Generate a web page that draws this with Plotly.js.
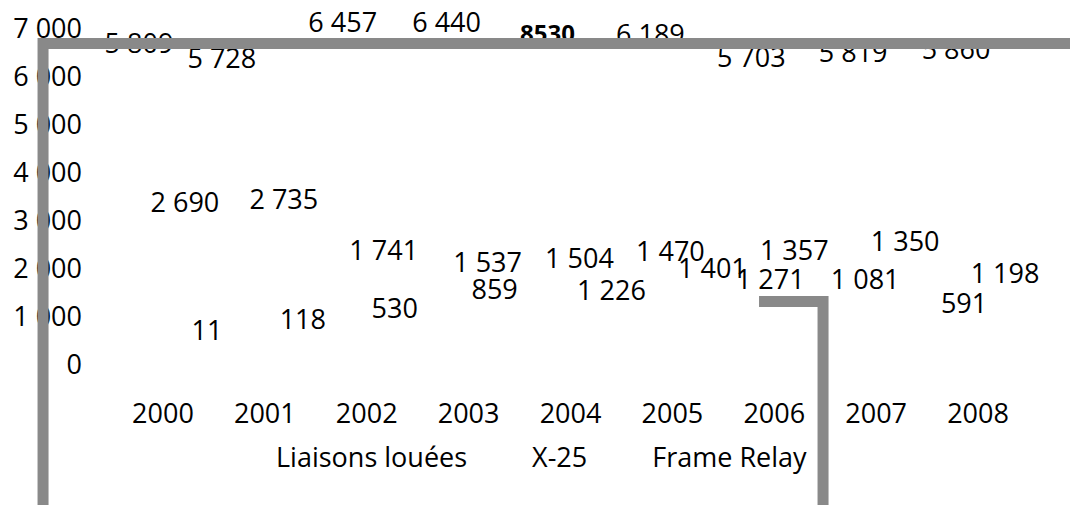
<!DOCTYPE html>
<html>
<head>
<meta charset="utf-8">
<script src="https://cdn.plot.ly/plotly-3.0.1.min.js"></script>
<style>
  html, body { margin: 0; padding: 0; background: #ffffff; }
  #chart { width: 1070px; height: 505px; }
</style>
</head>
<body>
<div id="chart"></div>
<script>
// ---- data ----
const years = [2000, 2001, 2002, 2003, 2004, 2005, 2006, 2007, 2008];
const seriesNames = ['Liaisons louées', 'X-25', 'Frame Relay'];
const liaisonsLouees = [5809, 5728, 6457, 6440, 6230, 6189, 5703, 5819, 5860];
const x25 = [2690, 2735, 1741, 1537, 1504, 1470, 1357, 1350, 1198];
const frameRelay = [11, 118, 530, 859, 1226, 1401, 1271, 1081, 591];
// label shown in the picture for 2004 of "Liaisons louées" (differs from the plotted value)
const liaisonsLabelOverride = { 2004: '<span style="font-size:24px"><b>8530</b></span>' };
const yTickValues = [0, 1000, 2000, 3000, 4000, 5000, 6000, 7000];

// ---- styling ----
const FONT = 'Open Sans, Noto Sans, sans-serif';
const FS = 27;
const GRAY = '#898989';
const M = { l: 112, r: 41, t: 0, b: 140 };
const W = 1070, H = 505;
const PW = W - M.l - M.r, PH = H - M.t - M.b;
const TOP_TICK_PX = 29;                              // where 7 000 sits
const pxPerUnit = (PH - TOP_TICK_PX) / 7000;
const yRangeMax = PH / pxPerUnit;
const pxPerYear = PW / 9;
const px2x = p => ((p - M.l) / PW).toFixed(4);
const px2y = p => ((H - M.b - p) / PH).toFixed(4);

// data-label placement nudges (pixels): horizontal shift from the year, lift above the value
const labelDx = [
  [-24, -43, -24, -22, -23, -22, -23, -23, -22],
  [22, 19, 17, 19, 9, -2, 20, 29, 27],
  [44, 38, 28, 26, 41, 40, -4, -11, -14]
];
const labelLift = [
  [40, 29, 30, 31, 31, 31, 31, 30, 31],
  [31, 31, 28, 26, 32, 40, 47, 56, 31],
  [31, 37, 28, 32, 13, 27, 22, 31, 30]
];

function fmt(v) {
  return String(Math.round(v)).replace(/\B(?=(\d{3})+(?!\d))/g, ' ');
}

const values = [liaisonsLouees, x25, frameRelay];
const traces = [];
values.forEach((vals, i) => {
  traces.push({
    type: 'bar', name: seriesNames[i], x: years, y: vals,
    marker: { color: 'rgba(0,0,0,0)', line: { width: 0 } },
    hoverinfo: 'skip', showlegend: true
  });
});
values.forEach((vals, i) => {
  const labels = vals.map((v, k) =>
    (i === 0 && liaisonsLabelOverride[years[k]]) ? liaisonsLabelOverride[years[k]] : fmt(v));
  traces.push({
    type: 'scatter', mode: 'text',
    x: years.map((y, k) => y + labelDx[i][k] / pxPerYear),
    y: vals.map((v, k) => v + labelLift[i][k] / pxPerUnit),
    text: labels, textposition: 'middle center',
    textfont: { family: FONT, size: FS, color: '#000' },
    cliponaxis: false, showlegend: false, hoverinfo: 'skip'
  });
});

const shapes = [
  { type: 'path', xref: 'paper', yref: 'paper', layer: 'above',
    path: `M ${px2x(43)} ${px2y(515)} L ${px2x(43)} ${px2y(43.5)} L ${px2x(1080)} ${px2y(43.5)}`,
    line: { color: GRAY, width: 11 } },
  { type: 'path', xref: 'paper', yref: 'paper', layer: 'above',
    path: `M ${px2x(759)} ${px2y(301.5)} L ${px2x(823)} ${px2y(301.5)} L ${px2x(823)} ${px2y(515)}`,
    line: { color: GRAY, width: 11 } }
];

const layout = {
  width: W, height: H,
  margin: M,
  paper_bgcolor: '#ffffff', plot_bgcolor: '#ffffff',
  separators: ', ',
  font: { family: FONT, size: FS, color: '#000' },
  barmode: 'group',
  xaxis: {
    type: 'linear', range: [1999.5, 2008.5], tickvals: years, ticktext: years.map(String),
    showgrid: false, zeroline: false, showline: false, ticks: '',
    tickfont: { family: FONT, size: FS, color: '#000' },
    ticklabelstandoff: 30, automargin: false
  },
  yaxis: {
    range: [0, yRangeMax], tickvals: yTickValues, tickformat: ',d',
    showgrid: false, zeroline: false, showline: false, ticks: '',
    tickfont: { family: FONT, size: FS, color: '#000' },
    ticklabelstandoff: 29, automargin: false
  },
  showlegend: true,
  legend: {
    orientation: 'h', x: 0.1134, xanchor: 'left', y: -0.252, yanchor: 'middle',
    itemwidth: 50, font: { family: FONT, size: FS, color: '#000' },
    bgcolor: 'rgba(0,0,0,0)', traceorder: 'normal'
  },
  shapes: shapes
};

Plotly.newPlot('chart', traces, layout, { staticPlot: true, displayModeBar: false });
</script>
</body>
</html>
